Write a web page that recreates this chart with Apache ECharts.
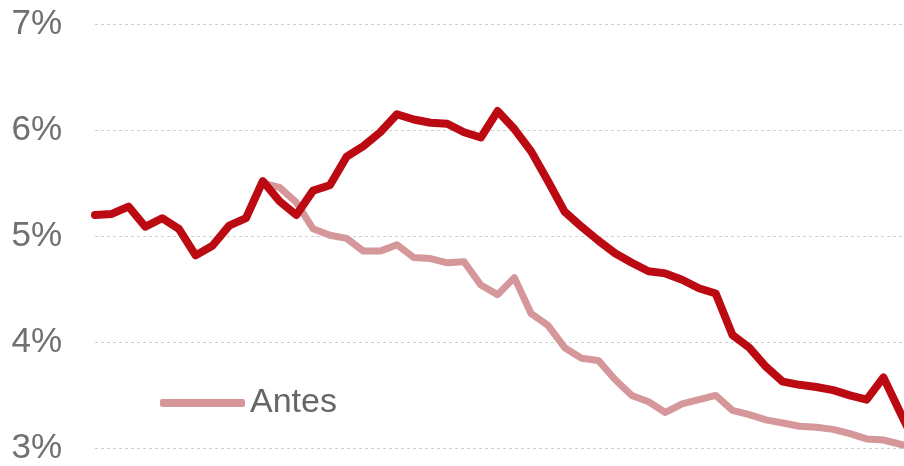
<!DOCTYPE html>
<html>
<head>
<meta charset="utf-8">
<script src="https://cdn.jsdelivr.net/npm/echarts@6/dist/echarts.min.js"></script>
<style>
html,body{margin:0;padding:0;background:#fff;overflow:hidden;}
#chart{width:917px;height:466px;}
</style>
</head>
<body>
<div id="chart"></div>
<script>
var categories = ["1","2","3","4","5","6","7","8","9","10","11","12","13","14","15","16","17","18","19","20","21","22","23","24","25","26","27","28","29","30","31","32","33","34","35","36","37","38","39","40","41","42","43","44","45","46","47","48","49","50"];

var actual = [5.20,5.21,5.28,5.09,5.17,5.07,4.82,4.91,5.10,5.17,
              5.52,5.33,5.20,5.43,5.48,5.75,5.85,5.98,6.15,6.10,
              6.07,6.06,5.98,5.93,6.18,6.01,5.80,5.52,5.23,5.09,
              4.96,4.84,4.75,4.67,4.65,4.59,4.51,4.46,4.07,3.95,
              3.77,3.63,3.60,3.58,3.55,3.50,3.46,3.67,3.34,3.02];

var antes = [null,null,null,null,null,null,null,null,null,null,
             5.50,5.46,5.32,5.07,5.01,4.98,4.86,4.86,4.92,4.80,
             4.79,4.75,4.76,4.54,4.45,4.61,4.27,4.16,3.95,3.85,
             3.83,3.65,3.50,3.44,3.34,3.42,3.46,3.50,3.36,3.32,
             3.27,3.24,3.21,3.20,3.18,3.14,3.09,3.08,3.04,3.00];

var yTicks = [3, 4, 5, 6, 7];

var chart = echarts.init(document.getElementById('chart'));
chart.setOption({
  animation: false,
  backgroundColor: '#ffffff',
  textStyle: { fontFamily: 'Liberation Sans, Arial, sans-serif' },
  grid: { left: 95, right: 0, top: 24, bottom: 14, containLabel: false },
  legend: {
    data: [{ name: 'Antes', icon: 'roundRect' }],
    left: 155,
    top: 381,
    itemWidth: 85,
    itemHeight: 8,
    textStyle: { fontSize: 34, color: '#666666', lineHeight: 34, fontFamily: 'Liberation Sans, Arial, sans-serif' }
  },
  xAxis: {
    type: 'category',
    data: categories,
    boundaryGap: false,
    axisLine: { show: false },
    axisTick: { show: false },
    axisLabel: { show: false },
    splitLine: { show: false }
  },
  yAxis: {
    type: 'value',
    min: yTicks[0],
    max: yTicks[yTicks.length - 1],
    interval: 1,
    axisLine: { show: false },
    axisTick: { show: false },
    axisLabel: {
      formatter: '{value}%',
      fontSize: 35,
      color: '#707070',
      margin: 33,
      fontFamily: 'Liberation Sans, Arial, sans-serif'
    },
    splitLine: { lineStyle: { color: '#cfcfcf', width: 1, type: [3, 3] } }
  },
  series: [
    {
      name: 'Antes',
      type: 'line',
      data: antes,
      showSymbol: false,
      symbol: 'none',
      connectNulls: false,
      lineStyle: { color: '#d6979b', width: 7, cap: 'round', join: 'round' },
      itemStyle: { color: '#d6979b' },
      z: 2
    },
    {
      name: 'Actual',
      type: 'line',
      data: actual,
      showSymbol: false,
      symbol: 'none',
      lineStyle: { color: '#bb0a12', width: 8, cap: 'round', join: 'round' },
      itemStyle: { color: '#bb0a12' },
      z: 3
    }
  ]
});
</script>
</body>
</html>
